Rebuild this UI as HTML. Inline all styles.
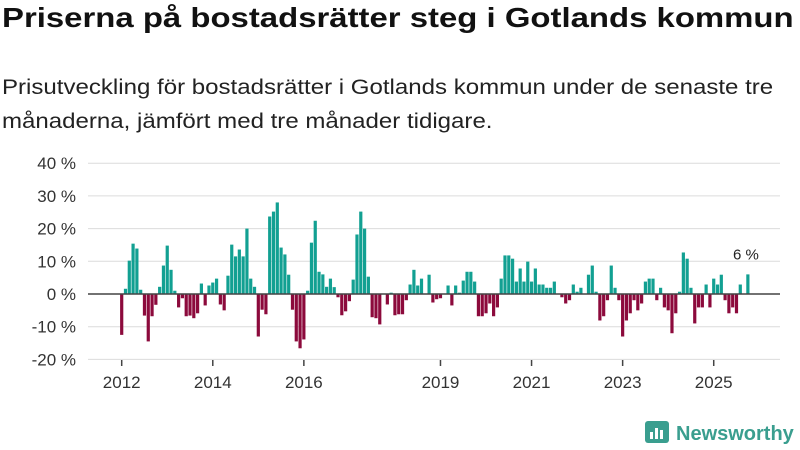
<!DOCTYPE html>
<html><head><meta charset="utf-8"><style>
body{margin:0;width:800px;height:450px;background:#fff;overflow:hidden;font-family:"Liberation Sans","DejaVu Sans",sans-serif;color:#111}
h1{position:absolute;left:2px;top:2px;margin:0;font-size:28px;font-weight:bold;white-space:nowrap;transform-origin:0 0;transform:scaleX(1.175)}
p{position:absolute;left:2px;top:71px;margin:0;font-size:21px;line-height:34px;color:#222;white-space:nowrap;transform-origin:0 0;transform:scaleX(1.145)}
svg{position:absolute;left:0;top:0}
</style></head><body>
<h1>Priserna på bostadsrätter steg i Gotlands kommun</h1>
<p>Prisutveckling för bostadsrätter i Gotlands kommun under de senaste tre<br>månaderna, jämfört med tre månader tidigare.</p>
<svg id="chart" width="800" height="450"></svg>
<script>
const values=[-12.5,1.6,10.2,15.4,13.9,1.3,-6.6,-14.5,-6.8,-3.3,2.2,8.7,14.8,7.4,1.0,-4.1,-1.3,-6.8,-6.6,-7.4,-5.9,3.2,-3.5,2.6,
3.5,4.7,-3.2,-5.0,5.6,15.1,11.5,13.6,11.5,20,4.7,2.2,-13,-4.8,-6.2,23.7,25.2,28,14.2,12.1,5.9,-4.8,-14.5,-16.6,
-13.9,1.0,15.7,22.4,6.8,6.0,2.2,4.7,2.1,-1.0,-6.5,-5.3,-2.2,4.4,18.2,25.2,20,5.3,-7.1,-7.4,-9.3,0,-3.2,0.4,
-6.5,-6.2,-6.2,-1.9,2.9,7.4,2.6,4.7,0,5.9,-2.6,-1.6,-1.3,0,2.6,-3.5,2.6,0.4,4.1,6.8,6.8,3.8,-6.8,-6.8,
-5.9,-2.9,-6.8,-4.1,4.7,11.8,11.8,10.8,3.8,7.8,3.8,9.9,3.8,7.8,2.9,2.9,1.9,1.9,3.8,0,-1.0,-2.9,-1.9,2.9,
0.7,1.9,0,5.9,8.7,0.7,-8.1,-6.8,-1.9,8.7,1.9,-1.9,-13,-8.1,-5.9,-1.9,-5,-2.9,3.8,4.7,4.7,-1.9,1.9,-4.1,
-5,-12,-5.9,0.7,12.7,10.8,1.9,-9,-4.1,-4.1,2.9,-4.1,4.7,2.9,5.9,-1.9,-5.9,-4.1,-5.9,2.9,0,6];
const yTicks=[40,30,20,10,0,-10,-20];
const yearLabels=[2012,2014,2016,2019,2021,2023,2025];
const startYear=2012;
const lastLabel="6 %";

const svg=document.getElementById('chart');
const NS='http://www.w3.org/2000/svg';
function y(v){return 294-v*3.27;}
function x(i){return 121.7+i*3.795;}
function mk(t,a){const e=document.createElementNS(NS,t);for(const k in a)e.setAttribute(k,a[k]);svg.appendChild(e);return e;}
yTicks.forEach(t=>{
  const l=mk('line',{x1:88,x2:780,y1:y(t),y2:y(t),stroke:'#dcdcdc','stroke-width':1});
  
  
  const tx=mk('text',{x:76,y:y(t)+6,'text-anchor':'end','font-size':17,fill:'#333'});
  tx.textContent=t+' %';
  
  
});
values.forEach((v,i)=>{
  if(v===0)return;
  const r=mk('rect',{x:x(i)-1.6,width:3.2,y:v>0?y(v):y(0),height:Math.abs(y(v)-y(0)),fill:v>0?'#12a092':'#8c0a3c'});
  
  
});
const z=mk('line',{x1:88,x2:780,y1:y(0),y2:y(0),stroke:'#444','stroke-width':1.5});


yearLabels.forEach(yr=>{
  const i=(yr-startYear)*12;
  const t=mk('line',{x1:x(i),x2:x(i),y1:360,y2:366,stroke:'#444','stroke-width':1.5});
  
  
  const tx=mk('text',{x:x(i),y:388,'text-anchor':'middle','font-size':17,fill:'#333'});
  tx.textContent=yr;
  
  
});
const li=values.length-1;
const lab=mk('text',{x:x(li)-2,y:y(values[li])-15,'text-anchor':'middle','font-size':15,fill:'#222'});
lab.textContent=lastLabel;


const g=mk('g',{});


const ic=document.createElementNS(NS,'rect');
ic.setAttribute('x',645);ic.setAttribute('y',421);ic.setAttribute('width',24);ic.setAttribute('height',22);ic.setAttribute('rx',3);ic.setAttribute('fill','#3a9e8f');
g.appendChild(ic);
[[650,432,3,7],[655,428,3,11],[660,430,3,9]].forEach(b=>{const r=document.createElementNS(NS,'rect');r.setAttribute('x',b[0]);r.setAttribute('y',b[1]);r.setAttribute('width',b[2]);r.setAttribute('height',b[3]);r.setAttribute('fill','#fff');g.appendChild(r);});
const lt=document.createElementNS(NS,'text');
lt.setAttribute('x',676);lt.setAttribute('y',440);lt.setAttribute('font-size',20);lt.setAttribute('font-weight','bold');lt.setAttribute('fill','#3a9e8f');
lt.textContent='Newsworthy';
g.appendChild(lt);
</script>
</body></html>
